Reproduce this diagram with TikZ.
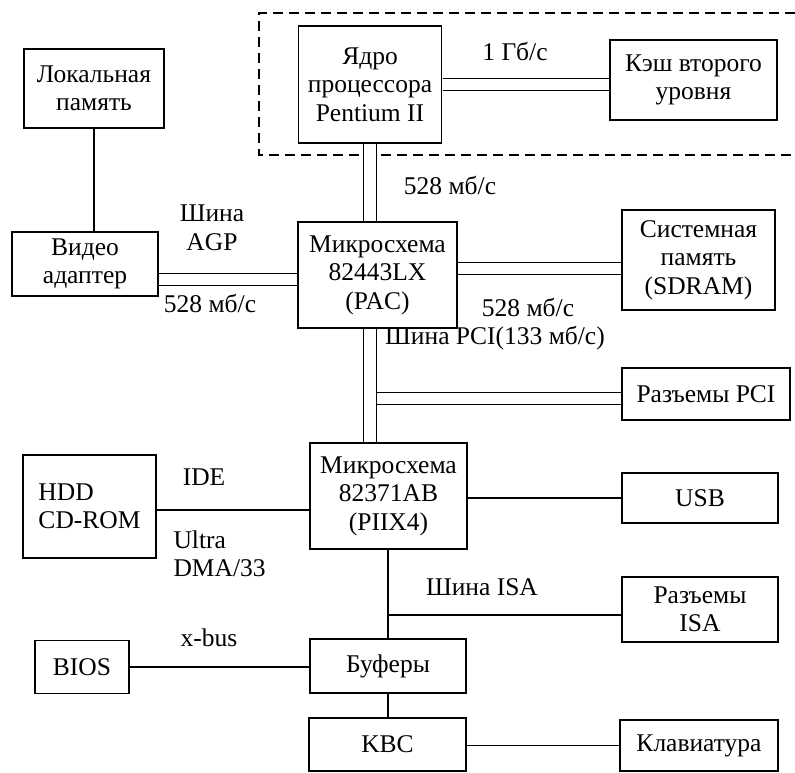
\documentclass[tikz,border=0pt]{standalone}
\usepackage{fontspec}
\setmainfont{Liberation Serif}
\begin{document}
\begin{tikzpicture}[x=1pt,y=-1pt,
  every node/.style={font=\fontsize{25.5}{28.5}\selectfont},
  blok/.style={draw,line width=1.2pt,align=center,inner sep=0pt},
  sgl/.style={line width=1.2pt},
  dbl/.style={double,double distance=11.4pt,line width=1.2pt,shorten <=0.6pt,shorten >=0.6pt}]
  \useasboundingbox (0,0) rectangle (795,772);
  \draw[line width=1.2pt,dash pattern=on 10pt off 6pt] (795,13) -- (259,13) -- (259,155) -- (795,155);
  \node[blok,minimum width=143pt,minimum height=117pt] (yadro) at (370,84.5) {Ядро\\процессора\\Pentium II};
  \node[blok,minimum width=167pt,minimum height=80pt] (kesh) at (693.5,80) {Кэш второго\\уровня};
  \node[blok,minimum width=140pt,minimum height=79pt] (lokal) at (94,88.5) {Локальная\\память};
  \node[blok,minimum width=146pt,minimum height=64pt] (video) at (85,264) {Видео\\адаптер};
  \node[blok,minimum width=159pt,minimum height=106pt] (pac) at (377.5,275) {Микросхема\\82443LX\\(PAC)};
  \node[blok,minimum width=153pt,minimum height=100pt] (sysmem) at (698.5,260) {Системная\\память\\(SDRAM)};
  \node[blok,minimum width=168pt,minimum height=52pt] (pci) at (706,394) {Разъемы PCI};
  \node[blok,minimum width=157pt,minimum height=106pt] (piix) at (388.5,496) {Микросхема\\82371AB\\(PIIX4)};
  \node[blok,align=left,minimum width=133pt,minimum height=103pt] (hdd) at (89.5,506.5) {HDD\\CD-ROM};
  \node[blok,minimum width=156pt,minimum height=50pt] (usb) at (700,498) {USB};
  \node[blok,minimum width=156pt,minimum height=65pt] (isa) at (700,609.5) {Разъемы\\ISA};
  \node[blok,minimum width=156pt,minimum height=54pt] (buf) at (388,666) {Буферы};
  \node[blok,minimum width=94pt,minimum height=53pt] (bios) at (82,667) {BIOS};
  \node[blok,minimum width=157pt,minimum height=53pt] (kbc) at (387.5,744.5) {KBC};
  \node[blok,minimum width=158pt,minimum height=51pt] (klav) at (699,745.5) {Клавиатура};
  \node (gbit) at (515,51) {1 Гб/с};
  \node (cpuspeed) at (450,185) {528 мб/с};
  \node[align=center] (agp) at (212,228) {Шина\\AGP};
  \node (agpspeed) at (210,303) {528 мб/с};
  \node (ramspeed) at (528,307) {528 мб/с};
  \node (pcibusname) at (495,338) {Шина PCI(133 мб/с)};
  \node (ide) at (204,477) {IDE};
  \node[align=left,anchor=west] (ultra) at (170,554) {Ultra\\DMA/33};
  \node (isabusname) at (482,587) {Шина ISA};
  \node (xbus) at (209,638) {x-bus};
  \path (video.east) ++(0,15.5) coordinate (agpL);
  \path (pac.east) ++(0,-6.5) coordinate (ramL);
  \path (hdd.east) ++(0,3.5) coordinate (ideL);
  \path (isa.west) ++(0,5.5) coordinate (isaL);
  \coordinate (pcibus) at (376.3,398.5);
  \draw[dbl] (yadro.east) -- (yadro.east -| kesh.west);
  \draw[dbl] (yadro.south) -- (yadro.south |- pac.north);
  \draw[dbl] (agpL) -- (agpL -| pac.west);
  \draw[dbl] (ramL) -- (ramL -| sysmem.west);
  \draw[dbl] (yadro.south |- pac.south) -- (yadro.south |- piix.north);
  \draw[dbl] (pcibus) -- (pcibus -| pci.west);
  \draw[sgl] (lokal.south) -- (lokal.south |- video.north);
  \draw[sgl] (ideL) -- (ideL -| piix.west);
  \draw[sgl] (usb.west) -- (usb.west -| piix.east);
  \draw[sgl] (buf.north) -- (buf.north |- piix.south);
  \draw[sgl] (isaL) -- (isaL -| buf.north);
  \draw[sgl] (bios.east) -- (bios.east -| buf.west);
  \draw[sgl] (buf.south) -- (buf.south |- kbc.north);
  \draw[sgl] (klav.west) -- (klav.west -| kbc.east);
\end{tikzpicture}
\end{document}
